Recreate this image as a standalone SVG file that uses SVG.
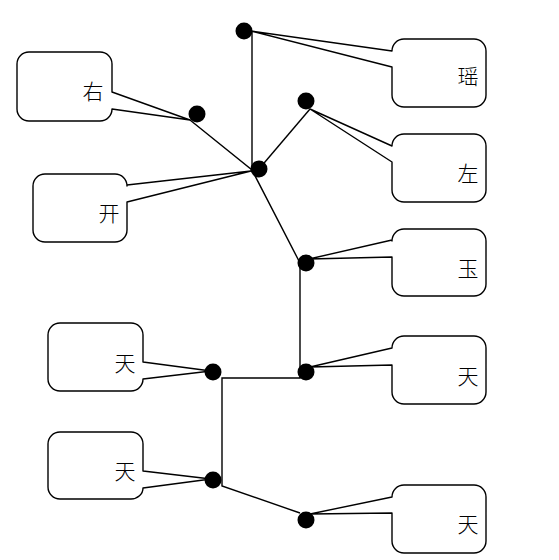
<svg xmlns="http://www.w3.org/2000/svg" width="559" height="560" viewBox="0 0 559 560">
<style>
.conn{fill:none;stroke:#000;stroke-width:1.4}
.co{fill:#fff;stroke:#000;stroke-width:1.4;stroke-linejoin:round}
.dot{fill:#000}
.t{font-family:"Noto Sans CJK SC","Noto Sans CJK JP",sans-serif;font-size:21px;font-weight:300;fill:#000;text-anchor:middle;dominant-baseline:central}
</style>
<rect width="559" height="560" fill="#fff"/>
<g id="connectors">
<line class="conn" x1="252" y1="31" x2="252" y2="171"/>
<polyline class="conn" points="190,120 252,170 300,263"/>
<line class="conn" x1="259" y1="169" x2="310" y2="109"/>
<polyline class="conn" points="300,263 300,378 222,378 222,486 300,513"/>
</g>
<g id="callout-yao">
<path class="co" d="M404,39 H474 A12,12 0 0 1 486,51 V95 A12,12 0 0 1 474,107 H404 A12,12 0 0 1 392,95 V67 L251,31 L392,51 A12,12 0 0 1 404,39 Z"/>
<text class="t" x="468" y="75">瑶</text>
</g>
<g id="callout-zuo">
<path class="co" d="M404,134 H474 A12,12 0 0 1 486,146 V190 A12,12 0 0 1 474,202 H404 A12,12 0 0 1 392,190 V162 L310,109 L392,146 A12,12 0 0 1 404,134 Z"/>
<text class="t" x="468" y="172">左</text>
</g>
<g id="callout-yu">
<path class="co" d="M404,229 H474 A12,12 0 0 1 486,241 V284 A12,12 0 0 1 474,296 H404 A12,12 0 0 1 392,284 V257 L309,259 L392,240 V241 A12,12 0 0 1 404,229 Z"/>
<text class="t" x="468" y="267">玉</text>
</g>
<g id="callout-you">
<path class="co" d="M29,52 H100 A12,12 0 0 1 112,64 V92 L190,120 L112,109 V109 A12,12 0 0 1 100,121 H29 A12,12 0 0 1 17,109 V64 A12,12 0 0 1 29,52 Z"/>
<text class="t" x="93" y="90">右</text>
</g>
<g id="callout-kai">
<path class="co" d="M45,174 H115 A12,12 0 0 1 127,186 V185 L251,171 L127,202 V230 A12,12 0 0 1 115,242 H45 A12,12 0 0 1 33,230 V186 A12,12 0 0 1 45,174 Z"/>
<text class="t" x="109" y="212">开</text>
</g>
<g id="callout-tian-1">
<path class="co" d="M60,323 H131 A12,12 0 0 1 143,335 V362 L211,371 L143,379 A12,12 0 0 1 131,391 H60 A12,12 0 0 1 48,379 V335 A12,12 0 0 1 60,323 Z"/>
<text class="t" x="125" y="362">天</text>
</g>
<g id="callout-tian-2">
<path class="co" d="M60,432 H131 A12,12 0 0 1 143,444 V471 L211,479 L143,488 A12,11 0 0 1 131,499 H60 A12,12 0 0 1 48,487 V444 A12,12 0 0 1 60,432 Z"/>
<text class="t" x="125" y="470">天</text>
</g>
<g id="callout-tian-3">
<path class="co" d="M404,336 H474 A12,12 0 0 1 486,348 V392 A12,12 0 0 1 474,404 H404 A12,12 0 0 1 392,392 V365 L310,367 L392,348 A12,12 0 0 1 404,336 Z"/>
<text class="t" x="468" y="375">天</text>
</g>
<g id="callout-tian-4">
<path class="co" d="M404,485 H474 A12,12 0 0 1 486,497 V541 A12,12 0 0 1 474,553 H404 A12,12 0 0 1 392,541 V513 L310,514 L392,497 A12,12 0 0 1 404,485 Z"/>
<text class="t" x="468" y="523">天</text>
</g>
<g id="node-a"><circle class="dot" cx="244" cy="31" r="8.5"/></g>
<g id="node-b"><circle class="dot" cx="197" cy="114" r="8.5"/></g>
<g id="node-c"><circle class="dot" cx="259" cy="169" r="8.5"/></g>
<g id="node-d"><circle class="dot" cx="306" cy="101" r="8.5"/></g>
<g id="node-e"><circle class="dot" cx="306" cy="263" r="8.5"/></g>
<g id="node-f"><circle class="dot" cx="306" cy="372" r="8.5"/></g>
<g id="node-g"><circle class="dot" cx="213" cy="372" r="8.5"/></g>
<g id="node-h"><circle class="dot" cx="213" cy="480" r="8.5"/></g>
<g id="node-i"><circle class="dot" cx="306" cy="520" r="8.5"/></g>
</svg>
